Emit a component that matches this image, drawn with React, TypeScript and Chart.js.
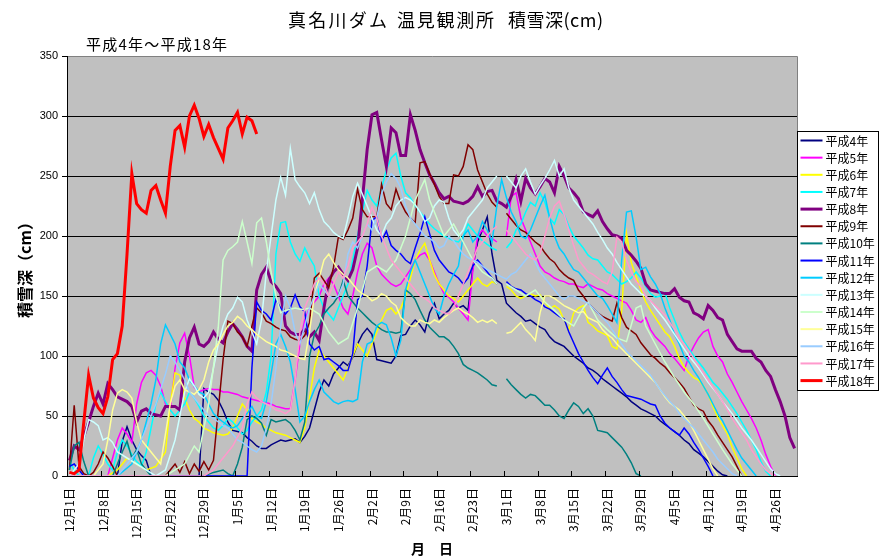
import { useEffect, useRef } from "react";
import { Chart, registerables } from "chart.js";

Chart.register(...registerables);

type P = [number, number | null];

// ---- axis / labels ----
const tickDays = [0, 7, 14, 21, 28, 35, 42, 49, 56, 63, 70, 77, 84, 91, 98, 105, 112, 119, 126, 133, 140, 147];
const tickLabels = ["12月1日", "12月8日", "12月15日", "12月22日", "12月29日", "1月5日", "1月12日", "1月19日", "1月26日", "2月2日", "2月9日", "2月16日", "2月23日", "3月1日", "3月8日", "3月15日", "3月22日", "3月29日", "4月5日", "4月12日", "4月19日", "4月26日"];
const dayCount = 152;
const yMax = 350;
const yStep = 50;

const chartTitle = ["真名川ダム", "温見観測所", "積雪深(cm)"];
const chartSubtitle = "平成4年～平成18年";
const yTitle = "積雪深（cm）";
const xTitle = "月　日";

const seriesNames = ["平成4年", "平成5年", "平成6年", "平成7年", "平成8年", "平成9年", "平成10年", "平成11年", "平成12年", "平成13年", "平成14年", "平成15年", "平成16年", "平成17年", "平成18年"];
const seriesColors = ["#000080", "#FF00FF", "#FFFF00", "#00FFFF", "#800080", "#800000", "#008080", "#0000FF", "#00CCFF", "#CCFFFF", "#CCFFCC", "#FFFF99", "#99CCFF", "#FF99CC", "#FF0000"];
const seriesWidths = [1.5, 1.5, 1.5, 1.5, 3, 1.5, 1.5, 1.5, 1.5, 1.5, 1.5, 1.5, 1.5, 1.5, 3];

// ---- series values: [day index from Dec 1, snow depth cm] ----
const h4: P[] = [[0,0],[10,0],[11,29],[12,41],[13,30],[14,22],[15,17],[16,13],[17,0],[27,0],[28,73],[29,70],[30,68],[31,63],[32,55],[33,45],[34,38],[35,37],[36,36],[37,32],[38,29],[39,25],[40,23],[41,23],[42,26],[43,28],[44,30],[45,29],[46,30],[47,31],[48,28],[49,33],[50,40],[51,55],[52,70],[53,80],[54,75],[55,85],[56,90],[57,95],[58,92],[59,99],[60,110],[61,118],[62,123],[63,118],[64,97],[65,96],[66,95],[67,94],[68,100],[69,117],[70,118],[71,125],[72,130],[73,126],[74,120],[75,136],[76,144],[77,131],[78,135],[79,138],[80,144],[81,140],[82,142],[83,138],[84,174],[85,195],[86,205],[87,216],[88,185],[89,163],[90,160],[91,144],[92,140],[93,136],[94,133],[95,129],[96,130],[97,127],[98,124],[99,122],[100,116],[101,112],[102,110],[103,108],[104,104],[105,100],[106,97],[107,94],[108,90],[109,88],[110,85],[111,81],[112,78],[113,75],[114,72],[115,69],[116,66],[117,62],[118,59],[119,56],[120,54],[121,52],[122,50],[123,46],[124,43],[125,40],[126,37],[127,34],[128,30],[129,27],[130,22],[131,19],[132,16],[133,12],[134,8],[135,4],[136,1],[137,0]];
const h5: P[] = [[0,0],[8,0],[9,15],[10,30],[11,40],[12,35],[13,28],[14,60],[15,78],[16,86],[17,88],[18,84],[19,75],[20,60],[21,55],[22,90],[23,111],[24,119],[25,100],[26,74],[27,70],[28,72],[29,73],[30,72],[31,72],[32,70],[33,70],[34,69],[35,68],[36,66],[37,65],[38,64],[39,63],[40,62],[41,61],[42,60],[43,58],[44,57],[45,56],[46,56],[47,80],[48,110],[49,130],[50,140],[51,145],[52,150],[53,160],[54,165],[55,160],[56,150],[57,140],[58,135],[59,150],[60,170],[61,185],[62,194],[63,190],[64,175],[65,168],[66,164],[67,160],[68,158],[69,160],[70,166],[71,172],[72,180],[73,184],[74,186],[75,180],[76,170],[77,160],[78,152],[79,149],[80,145],[81,140],[82,135],[83,130],[84,171],[85,200],[86,205],[87,200],[88,198],[89,195],[90,null],[91,200],[92,233],[93,236],[94,215],[95,205],[96,195],[97,185],[98,175],[99,170],[100,168],[101,165],[102,163],[103,162],[104,160],[105,160],[106,158],[107,157],[108,160],[109,158],[110,156],[111,155],[112,152],[113,150],[114,148],[115,146],[116,144],[117,138],[118,130],[119,128],[120,132],[121,122],[122,116],[123,112],[124,108],[125,102],[126,98],[127,93],[128,88],[129,100],[130,108],[131,115],[132,120],[133,122],[134,108],[135,100],[136,95],[137,85],[138,78],[139,70],[140,62],[141,55],[142,48],[143,40],[144,30],[145,18],[146,8],[147,0]];
const h6: P[] = [[0,0],[8,0],[10,5],[12,15],[14,10],[16,5],[18,8],[20,20],[21,60],[22,86],[23,84],[24,65],[25,55],[26,48],[27,45],[28,40],[29,38],[30,36],[31,35],[32,34],[33,35],[34,40],[35,50],[36,60],[37,55],[38,48],[39,45],[40,43],[41,40],[42,38],[43,36],[44,35],[45,34],[46,32],[47,30],[48,28],[49,40],[50,65],[51,90],[52,105],[53,100],[54,95],[55,90],[56,85],[57,80],[58,90],[59,100],[60,110],[61,105],[62,100],[63,110],[64,120],[65,130],[66,138],[67,140],[68,135],[69,140],[70,150],[71,165],[72,180],[73,188],[74,194],[75,180],[76,168],[77,160],[78,155],[79,150],[80,148],[81,145],[82,150],[83,155],[84,160],[85,165],[86,160],[87,158],[88,162],[89,160],[90,null],[91,158],[92,155],[93,150],[94,148],[95,150],[96,152],[97,150],[98,151],[99,145],[100,139],[101,142],[102,139],[103,130],[104,122],[105,136],[106,140],[107,142],[108,128],[109,125],[110,121],[111,119],[112,117],[113,108],[114,106],[115,138],[116,202],[117,178],[118,166],[119,155],[120,145],[121,138],[122,132],[123,126],[124,120],[125,116],[126,108],[127,98],[128,91],[129,86],[130,82],[131,80],[132,75],[133,68],[134,58],[135,49],[136,42],[137,35],[138,24],[139,15],[140,6],[141,0]];
const h7: P[] = [[0,12],[1,5],[2,0],[4,0],[5,15],[6,25],[7,18],[8,10],[9,5],[10,20],[11,30],[12,25],[13,18],[14,12],[15,8],[16,20],[17,40],[18,60],[19,70],[20,62],[21,55],[22,50],[23,55],[24,60],[25,70],[26,65],[27,58],[28,50],[29,45],[30,40],[31,38],[32,42],[33,48],[34,45],[35,40],[36,35],[37,38],[38,45],[39,50],[40,55],[41,70],[42,100],[43,185],[44,211],[45,212],[46,195],[47,185],[48,179],[49,190],[50,182],[51,175],[52,150],[53,140],[54,135],[55,130],[56,140],[57,150],[58,160],[59,180],[60,200],[61,220],[62,238],[63,230],[64,225],[65,240],[66,255],[67,265],[68,269],[69,250],[70,236],[71,232],[72,225],[73,220],[74,215],[75,210],[76,206],[77,203],[78,200],[79,198],[80,196],[81,195],[82,200],[83,210],[84,205],[85,200],[86,196],[87,193],[88,190],[89,188],[90,null],[91,190],[92,195],[93,205],[94,210],[95,220],[96,228],[97,225],[98,236],[99,228],[100,215],[101,210],[102,222],[103,218],[104,208],[105,200],[106,195],[107,190],[108,184],[109,181],[110,180],[111,175],[112,170],[113,168],[114,164],[115,160],[116,162],[117,165],[118,170],[119,165],[120,158],[121,152],[122,149],[123,150],[124,153],[125,140],[126,130],[127,120],[128,112],[129,106],[130,100],[131,95],[132,90],[133,84],[134,78],[135,74],[136,69],[137,64],[138,58],[139,52],[140,45],[141,38],[142,30],[143,22],[144,12],[145,4],[146,0]];
const h8: P[] = [[0,13],[1,25],[2,22],[3,33],[4,45],[5,58],[6,69],[7,60],[8,77],[9,72],[10,66],[12,62],[13,58],[14,45],[15,54],[16,56],[17,52],[19,50],[20,58],[22,58],[23,55],[24,95],[25,115],[26,124],[27,110],[28,108],[29,112],[30,120],[31,114],[32,111],[33,120],[34,127],[35,122],[36,116],[37,108],[38,104],[39,155],[40,168],[41,174],[42,162],[43,158],[44,152],[45,125],[46,120],[47,118],[48,118],[49,122],[50,116],[51,120],[52,113],[53,140],[54,163],[55,170],[56,174],[57,168],[58,163],[59,172],[60,190],[61,230],[62,272],[63,301],[64,303],[65,280],[66,258],[67,290],[68,286],[69,267],[70,267],[71,301],[72,288],[73,272],[74,261],[75,251],[76,244],[77,236],[78,231],[79,233],[80,229],[81,228],[82,227],[83,229],[84,233],[85,241],[86,233],[87,237],[88,238],[89,229],[90,227],[91,224],[92,233],[93,247],[94,229],[95,248],[96,240],[97,235],[98,241],[99,248],[100,245],[101,236],[102,258],[103,250],[104,240],[105,236],[106,231],[107,220],[108,218],[109,216],[110,221],[111,212],[112,206],[113,201],[114,200],[115,198],[116,188],[117,184],[118,179],[119,173],[120,160],[121,155],[122,154],[123,153],[124,152],[125,152],[126,156],[127,149],[128,146],[129,145],[130,136],[131,134],[132,131],[133,142],[134,138],[135,132],[136,130],[137,118],[138,112],[139,106],[140,104],[141,104],[142,104],[143,98],[144,95],[145,88],[146,83],[147,72],[148,62],[149,50],[150,32],[151,23]];
const h9: P[] = [[0,5],[1,59],[2,8],[3,2],[4,0],[5,3],[6,10],[7,20],[8,15],[9,8],[10,0],[20,0],[21,5],[22,10],[23,3],[24,12],[25,2],[26,10],[27,4],[28,12],[29,5],[30,13],[31,55],[32,97],[33,129],[34,127],[35,120],[36,116],[37,108],[38,125],[39,140],[40,136],[41,129],[42,127],[43,124],[44,122],[45,121],[46,116],[47,114],[48,113],[49,117],[50,128],[51,165],[52,169],[53,163],[54,157],[55,174],[56,199],[57,197],[58,205],[59,215],[60,239],[61,222],[62,216],[63,216],[64,216],[65,243],[66,227],[67,222],[68,239],[69,228],[70,220],[71,215],[72,211],[73,261],[74,262],[75,252],[76,243],[77,233],[78,227],[79,227],[80,251],[81,250],[82,258],[83,276],[84,272],[85,255],[86,245],[87,235],[88,228],[89,224],[90,null],[91,219],[92,214],[93,209],[94,205],[95,203],[96,199],[97,195],[98,192],[99,186],[100,181],[101,178],[102,172],[103,168],[104,165],[105,163],[106,155],[107,150],[108,144],[109,140],[110,136],[111,133],[112,131],[113,129],[114,144],[115,132],[116,124],[117,121],[118,118],[119,111],[120,106],[121,101],[122,98],[123,94],[124,91],[125,86],[126,82],[127,78],[128,73],[129,66],[130,59],[131,56],[132,54],[133,46],[134,41],[135,34],[136,28],[137,22],[138,16],[139,8],[140,0]];
const h10: P[] = [[0,5],[1,25],[2,28],[3,12],[4,0],[9,0],[10,10],[11,20],[12,29],[13,15],[14,22],[15,10],[16,5],[17,0],[28,0],[30,3],[32,5],[33,2],[34,0],[35,10],[36,24],[37,47],[38,50],[39,48],[40,44],[41,34],[42,47],[43,45],[44,46],[45,47],[46,44],[47,38],[48,30],[49,45],[50,100],[51,118],[52,125],[53,135],[54,140],[55,144],[56,150],[57,163],[58,150],[59,145],[60,140],[61,136],[62,132],[63,128],[64,125],[65,122],[66,120],[67,120],[68,119],[69,120],[70,155],[71,152],[72,147],[73,138],[74,130],[75,124],[76,120],[77,116],[78,116],[79,113],[80,108],[81,102],[82,93],[83,90],[84,88],[85,86],[86,83],[87,80],[88,76],[89,75],[90,null],[91,81],[92,76],[93,72],[94,68],[95,65],[96,68],[97,67],[98,63],[99,59],[100,59],[101,55],[102,50],[103,48],[104,55],[105,61],[106,58],[107,52],[108,56],[109,50],[110,38],[111,37],[112,36],[113,32],[114,28],[115,24],[116,18],[117,11],[118,2],[119,0]];
const h11: P[] = [[0,8],[1,10],[2,5],[3,0],[37,0],[38,90],[39,145],[40,138],[41,135],[42,130],[43,147],[44,140],[45,135],[46,140],[47,151],[48,141],[49,137],[50,110],[51,105],[52,108],[53,97],[54,98],[55,95],[56,92],[57,88],[58,88],[59,102],[60,147],[61,150],[62,175],[63,213],[64,216],[65,196],[66,204],[67,192],[68,188],[69,185],[70,180],[71,177],[72,190],[73,202],[74,216],[75,202],[76,188],[77,180],[78,175],[79,170],[80,168],[81,165],[82,160],[83,165],[84,175],[85,180],[86,175],[87,170],[88,165],[89,160],[90,null],[91,162],[92,158],[93,156],[94,155],[95,152],[96,150],[97,147],[98,145],[99,141],[100,139],[101,136],[102,133],[103,131],[104,120],[105,111],[106,102],[107,95],[108,88],[109,82],[110,77],[111,84],[112,90],[113,83],[114,78],[115,72],[116,67],[117,66],[118,65],[119,64],[120,62],[121,60],[122,59],[123,50],[124,44],[125,40],[126,37],[127,34],[128,40],[129,35],[130,28],[131,22],[132,15],[133,8],[134,0]];
const h12: P[] = [[0,0],[10,0],[13,10],[15,30],[17,60],[18,80],[19,110],[20,126],[21,118],[22,110],[23,95],[24,90],[25,80],[26,75],[27,70],[28,68],[29,60],[30,52],[31,48],[32,45],[33,42],[34,40],[35,42],[36,48],[37,52],[38,58],[39,50],[40,48],[41,62],[42,85],[43,110],[44,118],[45,108],[46,95],[47,72],[48,45],[49,50],[50,62],[51,72],[52,80],[53,70],[54,66],[55,62],[56,60],[57,62],[58,63],[59,62],[60,64],[61,95],[62,110],[63,112],[64,125],[65,128],[66,126],[67,115],[68,100],[69,113],[70,155],[71,170],[72,180],[73,170],[74,160],[75,150],[76,140],[77,135],[78,150],[79,160],[80,168],[81,175],[82,200],[83,205],[84,195],[85,200],[86,212],[87,205],[88,195],[89,225],[90,247],[91,232],[92,220],[93,212],[94,200],[95,198],[96,205],[97,215],[98,225],[99,234],[100,215],[101,200],[102,190],[103,185],[104,178],[105,172],[106,170],[107,165],[108,160],[109,155],[110,150],[111,148],[112,142],[113,135],[114,128],[115,180],[116,220],[117,221],[118,199],[119,172],[120,174],[121,166],[122,160],[123,152],[124,140],[125,130],[126,118],[127,110],[128,100],[129,95],[130,88],[131,82],[132,75],[133,68],[134,60],[135,52],[136,46],[137,38],[138,30],[139,22],[140,15],[141,10],[142,5],[143,0]];
const h13: P[] = [[0,0],[2,10],[3,30],[4,47],[5,45],[6,42],[7,30],[8,32],[9,28],[10,20],[12,15],[14,10],[16,5],[18,0],[20,5],[22,30],[24,70],[25,81],[26,75],[27,68],[28,65],[29,70],[30,90],[31,110],[32,125],[33,135],[34,140],[35,149],[36,145],[37,130],[38,120],[39,110],[40,130],[41,170],[42,200],[43,230],[44,249],[45,234],[46,273],[47,247],[48,241],[49,236],[50,227],[51,236],[52,222],[53,212],[54,208],[55,203],[56,200],[57,198],[58,215],[59,233],[60,244],[61,235],[62,225],[63,215],[64,205],[65,200],[66,210],[67,215],[68,225],[69,230],[70,232],[71,230],[72,226],[73,220],[74,212],[75,215],[76,225],[77,230],[78,228],[79,215],[80,205],[81,200],[82,205],[83,215],[84,220],[85,225],[86,230],[87,240],[88,245],[89,250],[90,null],[91,250],[92,245],[93,240],[94,250],[95,256],[96,245],[97,235],[98,242],[99,248],[100,255],[101,263],[102,250],[103,256],[104,240],[105,230],[106,225],[107,220],[108,215],[109,210],[110,203],[111,197],[112,190],[113,185],[114,178],[115,172],[116,166],[117,160],[118,156],[119,152],[120,150],[121,146],[122,140],[123,135],[124,130],[125,124],[126,118],[127,112],[128,106],[129,100],[130,95],[131,90],[132,84],[133,78],[134,73],[135,68],[136,62],[137,57],[138,52],[139,46],[140,40],[141,35],[142,30],[143,24],[144,18],[145,12],[146,6],[147,2],[148,0]];
const h14: P[] = [[0,0],[20,0],[24,10],[26,25],[27,20],[28,40],[29,60],[30,91],[31,124],[32,180],[33,188],[34,191],[35,195],[36,212],[37,195],[38,177],[39,211],[40,215],[41,195],[42,170],[43,150],[44,136],[45,138],[46,139],[47,140],[48,139],[49,139],[50,140],[52,135],[54,120],[56,110],[58,115],[60,140],[62,170],[64,175],[66,170],[68,180],[70,200],[72,230],[74,247],[75,230],[76,220],[78,200],[80,210],[82,195],[84,180],[86,170],[88,165],[89,160],[90,null],[91,160],[93,155],[95,150],[97,155],[99,145],[101,138],[103,130],[105,125],[107,140],[108,145],[110,130],[112,122],[114,115],[116,112],[118,140],[119,142],[120,125],[122,110],[124,95],[126,82],[128,70],[130,60],[132,48],[134,35],[136,22],[138,10],[140,0]];
const h15: P[] = [[0,0],[5,0],[7,10],[8,30],[9,55],[10,69],[11,72],[12,70],[13,65],[14,45],[15,30],[16,25],[17,20],[18,15],[19,10],[20,35],[21,60],[22,75],[23,80],[24,72],[25,70],[26,68],[27,72],[28,80],[29,95],[30,105],[31,110],[32,118],[33,125],[34,128],[35,133],[36,130],[37,125],[38,122],[39,118],[40,115],[41,112],[42,110],[43,108],[44,105],[45,104],[46,102],[47,100],[48,98],[49,97],[50,120],[51,150],[52,165],[53,180],[54,185],[55,178],[56,172],[57,168],[58,165],[59,160],[60,155],[61,152],[62,150],[63,146],[64,148],[65,152],[66,150],[67,145],[68,142],[69,132],[70,128],[71,125],[72,125],[73,130],[74,128],[75,127],[76,130],[77,128],[78,132],[79,135],[80,138],[81,140],[82,137],[83,135],[84,132],[85,128],[86,130],[87,128],[88,130],[89,127],[90,null],[91,119],[92,120],[93,124],[94,128],[95,122],[96,118],[97,113],[98,136],[99,150],[100,150],[101,148],[102,145],[103,142],[104,140],[105,138],[106,136],[107,137],[108,132],[109,130],[110,128],[111,122],[112,118],[113,115],[114,110],[115,106],[116,102],[117,98],[118,94],[119,90],[120,86],[121,82],[122,78],[123,72],[124,66],[125,61],[126,58],[127,55],[128,50],[129,45],[130,38],[131,30],[132,22],[133,14],[134,6],[135,0]];
const h16: P[] = [[0,0],[10,0],[14,20],[16,40],[18,60],[20,85],[21,100],[22,95],[23,88],[24,80],[25,70],[26,65],[27,60],[28,55],[29,50],[30,48],[31,45],[32,42],[33,40],[34,35],[35,30],[36,28],[37,25],[38,22],[39,20],[40,25],[41,40],[42,60],[43,90],[44,125],[45,150],[46,140],[47,120],[48,110],[49,125],[50,140],[51,150],[52,160],[53,155],[54,150],[55,148],[56,150],[57,160],[58,185],[59,195],[60,190],[61,200],[62,210],[63,205],[64,215],[65,235],[66,245],[67,252],[68,248],[69,240],[70,225],[71,215],[72,210],[73,205],[74,200],[75,198],[76,195],[77,190],[78,192],[79,200],[80,196],[81,190],[82,185],[83,182],[84,180],[85,178],[86,175],[87,172],[88,170],[89,168],[90,166],[91,164],[92,168],[93,170],[94,175],[95,180],[96,185],[97,178],[98,170],[99,165],[100,160],[101,155],[102,150],[103,147],[104,150],[105,150],[106,148],[107,146],[108,144],[109,140],[110,136],[111,132],[112,128],[113,122],[114,116],[115,110],[116,104],[117,100],[118,96],[119,92],[120,88],[121,84],[122,78],[123,72],[124,67],[125,62],[126,58],[127,52],[128,48],[129,44],[130,40],[131,35],[132,30],[133,25],[134,20],[135,14],[136,10],[137,6],[138,2],[139,0]];
const h17: P[] = [[0,0],[28,0],[30,5],[32,15],[34,25],[36,40],[37,60],[38,70],[39,65],[40,62],[41,60],[42,58],[43,55],[44,54],[45,52],[46,55],[47,80],[48,120],[49,140],[50,150],[51,160],[52,165],[53,160],[54,150],[55,160],[56,170],[57,165],[58,175],[59,190],[60,195],[61,200],[62,210],[63,224],[64,215],[65,200],[66,190],[67,180],[68,175],[69,170],[70,165],[71,160],[72,155],[73,150],[74,148],[75,145],[76,140],[77,138],[78,136],[79,135],[80,140],[81,150],[82,160],[83,170],[84,180],[85,190],[86,195],[87,200],[88,205],[89,208],[90,null],[91,205],[92,200],[93,195],[94,190],[95,185],[96,182],[97,180],[98,185],[99,200],[100,215],[101,225],[102,229],[103,218],[104,205],[105,192],[106,180],[107,175],[108,170],[109,168],[110,165],[111,162],[112,160],[113,170],[114,199],[115,195],[116,180],[117,170],[118,162],[119,158],[120,150],[121,146],[122,142],[123,138],[124,134],[125,128],[126,122],[127,115],[128,110],[129,104],[130,98],[131,92],[132,86],[133,80],[134,74],[135,68],[136,62],[137,55],[138,48],[139,42],[140,36],[141,30],[142,22],[143,16],[144,10],[145,5],[146,2],[147,0]];
const h18: P[] = [[0,3],[1,2],[2,5],[3,45],[4,84],[5,65],[6,57],[7,52],[8,66],[9,97],[10,102],[11,125],[12,185],[13,252],[14,227],[15,222],[16,219],[17,238],[18,242],[19,230],[20,219],[21,258],[22,288],[23,292],[24,274],[25,300],[26,309],[27,298],[28,283],[29,293],[30,282],[31,273],[32,264],[33,290],[34,296],[35,303],[36,285],[37,299],[38,296],[39,285]];

const allSeries = [h4, h5, h6, h7, h8, h9, h10, h11, h12, h13, h14, h15, h16, h17, h18];

const JP = '"Noto Sans CJK JP", "Noto Sans", sans-serif';
const LAT = '"Liberation Sans", Arial, sans-serif';

function drawSpaced(ctx: CanvasRenderingContext2D, text: string, x: number, y: number, targetWidth: number) {
  const chars = Array.from(text);
  const natural = chars.reduce((s, c) => s + ctx.measureText(c).width, 0);
  const gap = chars.length > 1 ? (targetWidth - natural) / (chars.length - 1) : 0;
  let cx = x;
  for (const c of chars) {
    ctx.fillText(c, cx, y);
    cx += ctx.measureText(c).width + gap;
  }
}

const decorPlugin = {
  id: "decor",
  beforeDraw(chart: any) {
    const { ctx, chartArea: a } = chart;
    ctx.save();
    ctx.fillStyle = "#FFFFFF";
    ctx.fillRect(0, 0, chart.width, chart.height);
    ctx.fillStyle = "#C0C0C0";
    ctx.fillRect(a.left, a.top, a.right - a.left, a.bottom - a.top);
    ctx.restore();
  },
  afterDraw(chart: any) {
    const { ctx, chartArea: a } = chart;
    const xs = chart.scales.x;
    ctx.save();
    // plot-area frame (top/right)
    ctx.strokeStyle = "#808080";
    ctx.lineWidth = 1;
    ctx.beginPath();
    ctx.moveTo(Math.round(a.left) + 0.5, Math.round(a.top) + 0.5);
    ctx.lineTo(Math.round(a.right) + 0.5, Math.round(a.top) + 0.5);
    ctx.lineTo(Math.round(a.right) + 0.5, Math.round(a.bottom) + 0.5);
    ctx.stroke();
    // axes
    ctx.strokeStyle = "#000";
    ctx.beginPath();
    ctx.moveTo(Math.round(a.left) + 0.5, Math.round(a.top));
    ctx.lineTo(Math.round(a.left) + 0.5, Math.round(a.bottom) + 0.5);
    ctx.lineTo(Math.round(a.right) + 1, Math.round(a.bottom) + 0.5);
    ctx.stroke();
    // inward x tick marks (category boundaries)
    ctx.beginPath();
    for (const d of tickDays) {
      const px = Math.round(xs.getPixelForValue(d - 0.5)) + 0.5;
      ctx.moveTo(px, a.bottom);
      ctx.lineTo(px, a.bottom - 5);
    }
    ctx.stroke();

    // title & subtitle
    ctx.fillStyle = "#000";
    ctx.textBaseline = "middle";
    ctx.textAlign = "left";
    ctx.font = `18px ${JP}`;
    drawSpaced(ctx, chartTitle[0], 288, 20, 99);
    drawSpaced(ctx, chartTitle[1], 397, 20, 97);
    drawSpaced(ctx, chartTitle[2], 508, 20, 95);
    ctx.font = `15px ${JP}`;
    drawSpaced(ctx, chartSubtitle, 86, 44, 141);

    // legend
    const lx = Math.round(a.right) + 0.5;
    const ly = 131.5;
    const lw = 81;
    const lh = 259;
    ctx.fillStyle = "#FFFFFF";
    ctx.fillRect(lx, ly, lw, lh);
    ctx.strokeStyle = "#000";
    ctx.lineWidth = 1;
    ctx.strokeRect(lx, ly, lw, lh);
    ctx.font = `12px ${JP}`;
    ctx.textBaseline = "middle";
    seriesNames.forEach((name, i) => {
      const y = ly + 9 + i * 17.15;
      ctx.strokeStyle = seriesColors[i];
      ctx.lineWidth = seriesWidths[i] > 2 ? 3 : 2;
      ctx.beginPath();
      ctx.moveTo(lx + 3, y);
      ctx.lineTo(lx + 25, y);
      ctx.stroke();
      ctx.fillStyle = "#000";
      ctx.fillText(name, lx + 28, y + 0.5);
    });
    ctx.restore();
  },
};

export default function App() {
  const ref = useRef<HTMLCanvasElement>(null);
  useEffect(() => {
    document.body.style.margin = "0";
    const canvas = ref.current;
    if (!canvas) return;
    const datasets = allSeries.map((s, i) => ({
      label: seriesNames[i],
      data: s.map(([x, y]) => ({ x, y })),
      borderColor: seriesColors[i],
      backgroundColor: seriesColors[i],
      borderWidth: seriesWidths[i],
      pointRadius: 0,
      pointHoverRadius: 0,
      fill: false,
      tension: 0,
      spanGaps: false,
      order: allSeries.length - 1 - i,
    }));
    const chart = new Chart(canvas, {
      type: "line",
      data: { datasets },
      options: {
        animation: false,
        responsive: false,
        devicePixelRatio: 1,
        events: [],
        layout: { padding: { left: 0, right: 83, top: 56, bottom: 0 } },
        plugins: { legend: { display: false }, tooltip: { enabled: false }, title: { display: false } },
        scales: {
          x: {
            type: "linear",
            min: -0.5,
            max: dayCount - 0.5,
            afterBuildTicks: (s: any) => {
              s.ticks = tickDays.map((v) => ({ value: v }));
            },
            afterFit: (s: any) => {
              s.height = 84;
            },
            ticks: {
              autoSkip: false,
              minRotation: 90,
              maxRotation: 90,
              padding: 12,
              color: "#000",
              font: { family: JP, size: 12 },
              callback: (v: any) => {
                const k = tickDays.indexOf(Number(v));
                return k >= 0 ? tickLabels[k] : "";
              },
            },
            grid: { display: false, drawTicks: false },
            border: { display: false },
            title: {
              display: true,
              text: xTitle,
              color: "#000",
              font: { family: JP, size: 14, weight: "bold" },
              padding: { top: 0, bottom: 3 },
            },
          },
          y: {
            min: 0,
            max: yMax,
            afterFit: (s: any) => {
              s.width = 67;
            },
            ticks: {
              stepSize: yStep,
              color: "#000",
              padding: 4,
              font: { family: LAT, size: 11 },
            },
            grid: {
              color: (c: any) => (c.tick && c.tick.value === yMax ? "rgba(0,0,0,0)" : "#000000"),
              lineWidth: 1,
              tickLength: 5,
              tickColor: "#000",
              drawTicks: true,
            },
            border: { display: false },
            title: {
              display: true,
              text: yTitle,
              color: "#000",
              font: { family: JP, size: 16, weight: "bold" },
              padding: { top: 15, bottom: 0 },
            },
          },
        },
      },
      plugins: [decorPlugin],
    } as any);
    return () => chart.destroy();
  }, []);
  return <canvas ref={ref} width={880} height={560} style={{ display: "block" }} />;
}
